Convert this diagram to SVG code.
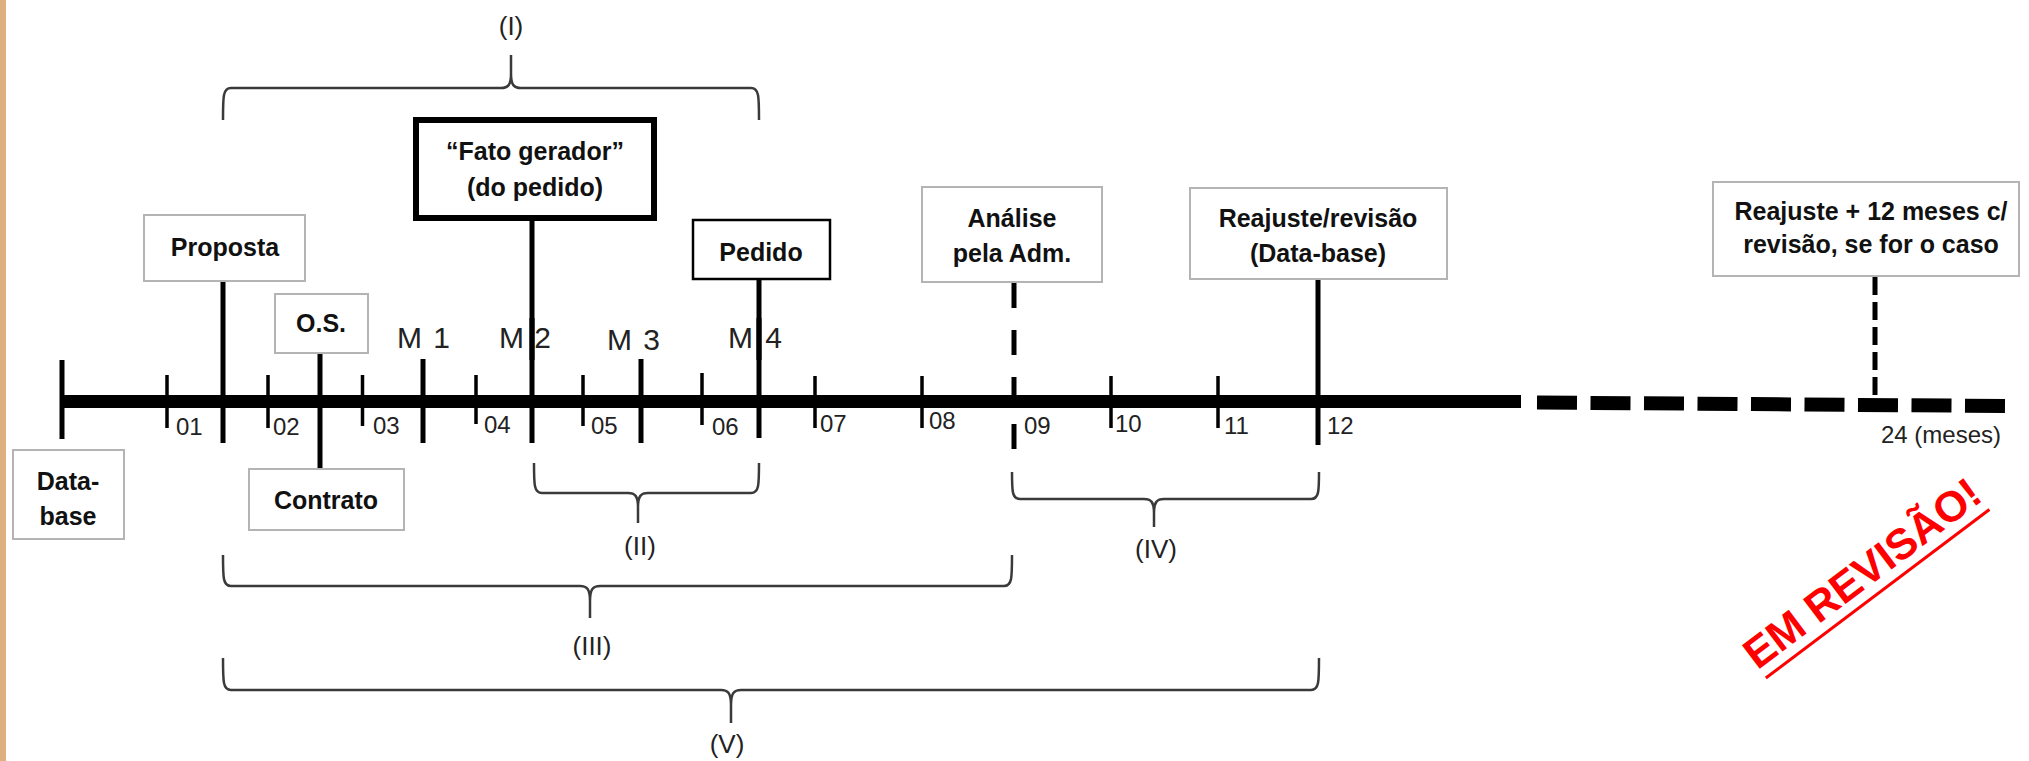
<svg xmlns="http://www.w3.org/2000/svg" width="2029" height="761" viewBox="0 0 2029 761">
  <style>
    .box { fill: #ffffff; stroke: #b4b4b4; stroke-width: 2; }
    .boxk { fill: #ffffff; stroke: #000000; stroke-width: 2.5; }
    .bt { font-family: "Liberation Sans", Arial, sans-serif; font-weight: bold; font-size: 25px; text-anchor: middle; fill: #111111; }
    .lt { font-family: "Liberation Sans", Arial, sans-serif; font-size: 24px; fill: #222222; }
    .ml { font-family: "Liberation Sans", Arial, sans-serif; font-size: 30px; fill: #222222; }
    .rl { font-family: "Liberation Sans", Arial, sans-serif; font-size: 26px; text-anchor: middle; fill: #222222; }
    .tick { stroke: #000000; stroke-width: 3.5; }
    .mark { stroke: #000000; stroke-width: 5; }
    .br { fill: none; stroke: #3a3a3a; stroke-width: 2.5; }
  </style>

  <rect x="0" y="0" width="2029" height="761" fill="#ffffff"/>
  <rect x="0" y="0" width="6" height="761" fill="#dfb07f"/>

  <!-- timeline axis, ticks and leader lines -->
  <g id="connectors">
    <line x1="62" y1="401.5" x2="1521" y2="401.5" stroke="#000" stroke-width="13"/>
    <line x1="1537" y1="402.5" x2="2005" y2="406" stroke="#000" stroke-width="14" stroke-dasharray="40 13.5"/>

    <line class="mark" x1="62" y1="360" x2="62" y2="439"/>
    <line class="tick" x1="167" y1="375" x2="167" y2="428"/>
    <line class="mark" x1="223" y1="281" x2="223" y2="443"/>
    <line class="tick" x1="268" y1="375" x2="268" y2="428"/>
    <line class="mark" x1="320" y1="353" x2="320" y2="469"/>
    <line class="tick" x1="362.5" y1="375" x2="362.5" y2="426"/>
    <line class="mark" x1="423" y1="359" x2="423" y2="443"/>
    <line class="tick" x1="476" y1="375" x2="476" y2="424"/>
    <line class="mark" x1="532" y1="221" x2="532" y2="443"/>
    <line class="tick" x1="583" y1="375" x2="583" y2="426"/>
    <line class="mark" x1="641" y1="359" x2="641" y2="443"/>
    <line class="tick" x1="702" y1="373" x2="702" y2="425"/>
    <line class="mark" x1="759" y1="279" x2="759" y2="438"/>
    <line class="tick" x1="815" y1="376" x2="815" y2="428"/>
    <line class="tick" x1="922" y1="376" x2="922" y2="428"/>
    <line x1="1014" y1="283" x2="1014" y2="449" stroke="#000" stroke-width="5" stroke-dasharray="25 22"/>
    <line class="tick" x1="1111" y1="376" x2="1111" y2="428"/>
    <line class="tick" x1="1218" y1="376" x2="1218" y2="428"/>
    <line class="mark" x1="1318" y1="279" x2="1318" y2="445"/>
    <line x1="1875" y1="277" x2="1875" y2="400" stroke="#000" stroke-width="5" stroke-dasharray="18 7"/>
  </g>

  <!-- month numbers -->
  <g id="months">
    <text class="lt" x="176" y="435">01</text>
    <text class="lt" x="273" y="435">02</text>
    <text class="lt" x="373" y="434">03</text>
    <text class="lt" x="484" y="433">04</text>
    <text class="lt" x="591" y="434">05</text>
    <text class="lt" x="712" y="435">06</text>
    <text class="lt" x="820" y="432">07</text>
    <text class="lt" x="929" y="429">08</text>
    <text class="lt" x="1024" y="434">09</text>
    <text class="lt" x="1115" y="432">10</text>
    <text class="lt" x="1224" y="434">11</text>
    <text class="lt" x="1327" y="434">12</text>
    <text class="lt" x="2001" y="443" text-anchor="end" font-size="25">24 (meses)</text>
  </g>

  <!-- measurement milestones -->
  <g id="milestones">
    <text class="ml" x="397" y="348" textLength="53" lengthAdjust="spacing">M 1</text>
    <text class="ml" x="499" y="348" textLength="52" lengthAdjust="spacing">M 2</text>
    <text class="ml" x="607" y="350" textLength="53" lengthAdjust="spacing">M 3</text>
    <text class="ml" x="728" y="348" textLength="54" lengthAdjust="spacing">M 4</text>
  </g>
  <!-- leader lines drawn over the M 2 / M 4 labels -->
  <g id="label-crossings">
    <line class="mark" x1="532" y1="318" x2="532" y2="360"/>
    <line class="mark" x1="759" y1="318" x2="759" y2="360"/>
  </g>

  <g id="node-database">
    <rect class="box" x="13" y="450" width="111" height="89"/>
    <text class="bt" x="68" y="490">Data-</text>
    <text class="bt" x="68" y="525">base</text>
  </g>

  <g id="node-proposta">
    <rect class="box" x="144" y="215" width="161" height="66"/>
    <text class="bt" x="225" y="256">Proposta</text>
  </g>

  <g id="node-os">
    <rect class="box" x="275" y="294" width="93" height="59"/>
    <text class="bt" x="321" y="332">O.S.</text>
  </g>

  <g id="node-contrato">
    <rect class="box" x="249" y="469" width="155" height="61"/>
    <text class="bt" x="326" y="509">Contrato</text>
  </g>

  <g id="node-fato-gerador">
    <rect x="416" y="120" width="238" height="98" fill="#ffffff" stroke="#000000" stroke-width="6"/>
    <text class="bt" x="535" y="160">“Fato gerador”</text>
    <text class="bt" x="535" y="196">(do pedido)</text>
  </g>

  <g id="node-pedido">
    <rect class="boxk" x="693" y="220" width="137" height="59"/>
    <text class="bt" x="761" y="261">Pedido</text>
  </g>

  <g id="node-analise">
    <rect class="box" x="922" y="187" width="180" height="95"/>
    <text class="bt" x="1012" y="227">Análise</text>
    <text class="bt" x="1012" y="262">pela Adm.</text>
  </g>

  <g id="node-reajuste">
    <rect class="box" x="1190" y="188" width="257" height="91"/>
    <text class="bt" x="1318" y="227">Reajuste/revisão</text>
    <text class="bt" x="1318" y="262">(Data-base)</text>
  </g>

  <g id="node-reajuste-12">
    <rect class="box" x="1713" y="182" width="306" height="94"/>
    <text class="bt" x="1871" y="220">Reajuste + 12 meses c/</text>
    <text class="bt" x="1871" y="253">revisão, se for o caso</text>
  </g>

  <!-- interval braces -->
  <g id="braces">
    <path class="br" d="M223,120 C223,96 223,88 231,88 L501,88 C508,88 511,85 511,74 L511,55 M511,74 C511,85 514,88 521,88 L751,88 C759,88 759,96 759,120"/>
    <path class="br" stroke-width="2" d="M534,463 C534,485 534,493 542,493 L628,493 C635,493 638,496 638,507 L638,523 M638,507 C638,496 641,493 648,493 L751,493 C759,493 759,485 759,463"/>
    <path class="br" stroke-width="2" d="M223,555 C223,578 223,586 231,586 L580,586 C587,586 590,589 590,601 L590,618 M590,601 C590,589 593,586 600,586 L1004,586 C1012,586 1012,578 1012,555"/>
    <path class="br" stroke-width="2" d="M1012,472 C1012,491 1012,499 1020,499 L1144,499 C1151,499 1154,502 1154,513 L1154,527 M1154,513 C1154,502 1157,499 1164,499 L1311,499 C1319,499 1319,491 1319,472"/>
    <path class="br" stroke="#555555" stroke-width="3.5" d="M223,658 C223,682 223,690 231,690 L721,690 C728,690 731,693 731,705 L731,723 M731,705 C731,693 734,690 741,690 L1311,690 C1319,690 1319,682 1319,658"/>
  </g>

  <g id="brace-labels">
    <text class="rl" x="511" y="35">(I)</text>
    <text class="rl" x="640" y="555">(II)</text>
    <text class="rl" x="592" y="655">(III)</text>
    <text class="rl" x="1156" y="558">(IV)</text>
    <text class="rl" x="727" y="753">(V)</text>
  </g>

  <!-- draft stamp -->
  <g id="stamp" transform="translate(1871,585) rotate(-37)">
    <text x="0" y="0" text-anchor="middle" font-family="Liberation Sans, Arial, sans-serif" font-weight="bold" font-size="43" fill="#ff0000">EM REVISÃO!</text>
    <line x1="-140" y1="11" x2="140" y2="11" stroke="#ff0000" stroke-width="3"/>
  </g>
</svg>
